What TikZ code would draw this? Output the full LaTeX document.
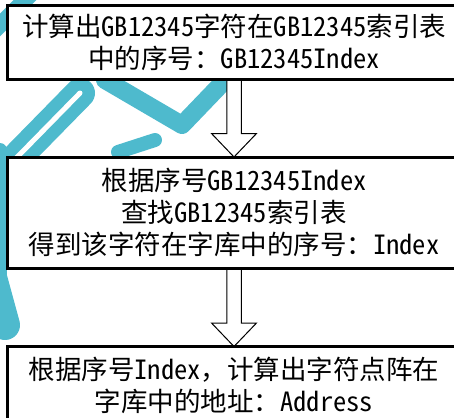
\documentclass[tikz,border=0pt]{standalone}
\usepackage{fontspec}
\setmainfont{Noto Sans CJK SC}[RawFeature=+hwid]
\newfontfamily\cjkfull{Noto Sans CJK SC}
\usetikzlibrary{calc}
\pgfdeclarelayer{bg}
\pgfsetlayers{bg,main}
\definecolor{wm}{RGB}{78,186,205}
\tikzset{
 box/.style={draw=black, line width=3pt, fill=white, outer sep=0pt, minimum width=453pt, align=center, inner sep=0pt, font=\fontsize{26.5}{32}\selectfont},
 blockarrow/.style={draw=black, line width=1pt, fill=white, line join=miter},
 wmband/.style={draw=wm, line cap=round, line join=round},
}
\begin{document}
\begin{tikzpicture}[x=1pt,y=-1pt]
\useasboundingbox (0,0) rectangle (454,417);
\node[box, minimum height=73.5pt] (b1) at (234,42.75) {计算出GB12345字符在GB12345索引表\\中的序号{\cjkfull ：}GB12345Index};
\node[box, minimum height=111.5pt] (b2) at (234,212.75) {根据序号GB12345Index\\查找GB12345索引表\\得到该字符在字库中的序号{\cjkfull ：}Index};
\node[box, minimum height=77pt] (b3) at (234,385) {根据序号Index{\cjkfull ，}计算出字符点阵在\\字库中的地址{\cjkfull ：}Address};
\begin{pgfonlayer}{bg}
 \begin{scope}
  \clip (0,0) rectangle (454,417);
  \draw[wmband, line width=16pt] (-20,45) -- (40,-15);
  \draw[wmband, line width=30pt] (-20,195) -- (80,93);
  \draw[draw=white, line cap=round, line width=5pt] (-20,195) -- (80,93);
  \draw[wmband, line width=18pt] (105,80) -- (182,125) -- (230,75);
  \draw[wmband, line width=14pt] (118,152) -- (155,140);
  \draw[wmband, line width=14pt] (0,150) -- (0,280);
  \draw[wmband, line width=30pt] (-10,270) -- (5,325);
 \end{scope}
 \draw[blockarrow] ($(b1.south)+(-7.25,0)$) -- ($(b2.north)+(-7.25,-23.5)$) -- ($(b2.north)+(-22.5,-23.5)$) -- (b2.north) -- ($(b2.north)+(22.5,-23.5)$) -- ($(b2.north)+(7.25,-23.5)$) -- ($(b1.south)+(7.25,0)$);
 \draw[blockarrow] ($(b2.south)+(-7.25,0)$) -- ($(b3.north)+(-7.25,-23.5)$) -- ($(b3.north)+(-22.5,-23.5)$) -- (b3.north) -- ($(b3.north)+(22.5,-23.5)$) -- ($(b3.north)+(7.25,-23.5)$) -- ($(b2.south)+(7.25,0)$);
\end{pgfonlayer}
\end{tikzpicture}
\end{document}
